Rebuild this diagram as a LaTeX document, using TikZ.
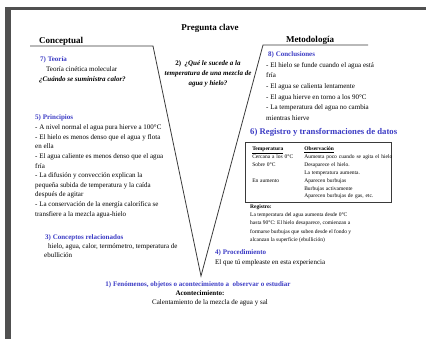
\documentclass[tikz,border=0pt]{standalone}
\usepackage{fontspec}
\setmainfont{Liberation Serif}
\usepackage{xcolor}
\usetikzlibrary{positioning}
\definecolor{vblue}{HTML}{3B3BC4}
\definecolor{vframe}{HTML}{505050}
\definecolor{vline}{HTML}{3A3A3A}
\tikzstyle{l1}=[line width=0.8, draw=vline]
\tikzstyle{ttl}=[font=\fontsize{9}{10}\selectfont\bfseries, inner sep=0pt]
\tikzstyle{hd}=[font=\fontsize{7}{10}\selectfont\bfseries, text=vblue, inner sep=0pt, anchor=base west]
\tikzstyle{txt}=[font=\fontsize{7}{10}\selectfont, align=left, inner sep=0pt, anchor=base west]
\tikzstyle{blk}=[font=\fontsize{7}{10}\selectfont, align=left, inner sep=0pt, anchor=north west]
\tikzstyle{blksm}=[font=\fontsize{5.5}{8.3}\selectfont, align=left, inner sep=0pt, anchor=north west]

\begin{document}
\begin{tikzpicture}[x=1pt, y=-1pt]

    \useasboundingbox (0,0) rectangle (426,339);
    \fill[vframe] (5,7) rectangle (426,10.5);
    \fill[vframe] (5,7) rectangle (10.5,339);

    \coordinate (cl) at (30,46);
    \coordinate (ctop) at (153,46);
    \coordinate (vtip) at (201,276);
    \coordinate (mtop) at (263,45);
    \coordinate (mr) at (368,45);
    \draw[l1] (cl) -- (ctop) -- (vtip) -- (mtop) -- (mr);

    \node[ttl, anchor=base] at (210,31) (clave) {Pregunta clave};
    \node[ttl, anchor=base west] at (39,44) (concep) {Conceptual};
    \node[ttl, anchor=base] at (310,43) (metod) {Metodología};

    \node[blk, font=\fontsize{7}{10}\selectfont\bfseries\itshape, align=center, anchor=north] at (208,60.5) (preg)
        {\textup{2)}\enspace ¿Qué le sucede a la\\temperatura de una mezcla de\\agua y hielo?};

    \node[hd] at (40,61.5) (teoria) {7) Teoría};
    \node[txt] at (46,71.5) (teoriatxt) {Teoría cinética molecular};
    \node[txt, font=\fontsize{7}{10}\selectfont\bfseries\itshape] at (39,81.5) (calor) {¿Cuándo se suministra calor?};

    \node[hd] at (35,119.5) (princ) {5) Principios};
    \node[blk, font=\fontsize{7}{9.6}\selectfont] at (35,124.7) (princtxt)
        {- A nivel normal el agua pura hierve a 100°C\\
         - El hielo es menos denso que el agua y flota\\
         en ella\\
         - El agua caliente es menos denso que el agua\\
         fría\\
         - La difusión y convección explican la\\
         pequeña subida de temperatura y la caída\\
         después de agitar\\
         - La conservación de la energía calorífica se\\
         transfiere a la mezcla agua-hielo};

    \node[hd] at (45,239.5) (concrel) {3) Conceptos relacionados};
    \node[blk, font=\fontsize{7}{9}\selectfont] at (44,243.7) (concreltxt)
        {\hspace{4pt}hielo, agua, calor, termómetro, temperatura de\\ebullición};

    \node[hd] at (268,56.5) (concl) {8) Conclusiones};
    \node[blk, font=\fontsize{7}{10.6}\selectfont] at (266,62.2) (concltxt)
        {- El hielo se funde cuando el agua está\\
         fría\\
         - El agua se calienta lentamente\\
         - El agua hierve en torno a los 90°C\\
         - La temperatura del agua no cambia\\
         mientras hierve};

    \node[hd, font=\fontsize{8.7}{10}\selectfont\bfseries] at (250,134.5) (regtr) {6) Registro y transformaciones de datos};

    \node[draw=vline, line width=0.6, anchor=north west, inner xsep=0pt, inner ysep=2.5pt, text width=146pt,
          font=\fontsize{5.5}{7.8}\selectfont] at (245,142) (tabla)
        {\begin{tabular}{@{\hspace{7pt}}p{46pt}@{\hspace{6pt}}l@{}}
         \underline{\textbf{Temperatura}} & \underline{\textbf{Observación}}\\
         Cercana a los 0°C & Aumenta poco cuando se agita el hielo\\
         Sobre 0°C & Desaparece el hielo.\\
          & La temperatura aumenta.\\
         En aumento & Aparecen burbujas\\
          & Burbujas activamente\\
          & Aparecen burbujas de gas, etc.
         \end{tabular}};

    \node[blksm, font=\fontsize{5.5}{8.3}\selectfont\bfseries, anchor=base west] at (250,209) (reg) {Registro:};
    \node[blksm] at (250,212.6) (regtxt)
        {La temperatura del agua aumenta desde 0°C\\
         hasta 90°C: El hielo desaparece, comienzan a\\
         formarse burbujas que suben desde el fondo y\\
         alcanzan la superficie (ebullición)};

    \node[hd] at (215,254.5) (proc) {4) Procedimiento};
    \node[txt] at (215,264.5) (proctxt) {El que tú empleaste en esta experiencia};

    \node[hd, anchor=base] at (198,287) (fenom) {1) Fenómenos, objetos o acontecimiento a\ \ observar o estudiar};
    \node[txt, font=\fontsize{7}{10}\selectfont\bfseries, anchor=base] at (200,296) (acont) {Acontecimiento:};
    \node[txt, anchor=base] at (210,305) (acontxt) {Calentamiento de la mezcla de agua y sal};

\end{tikzpicture}
\end{document}
